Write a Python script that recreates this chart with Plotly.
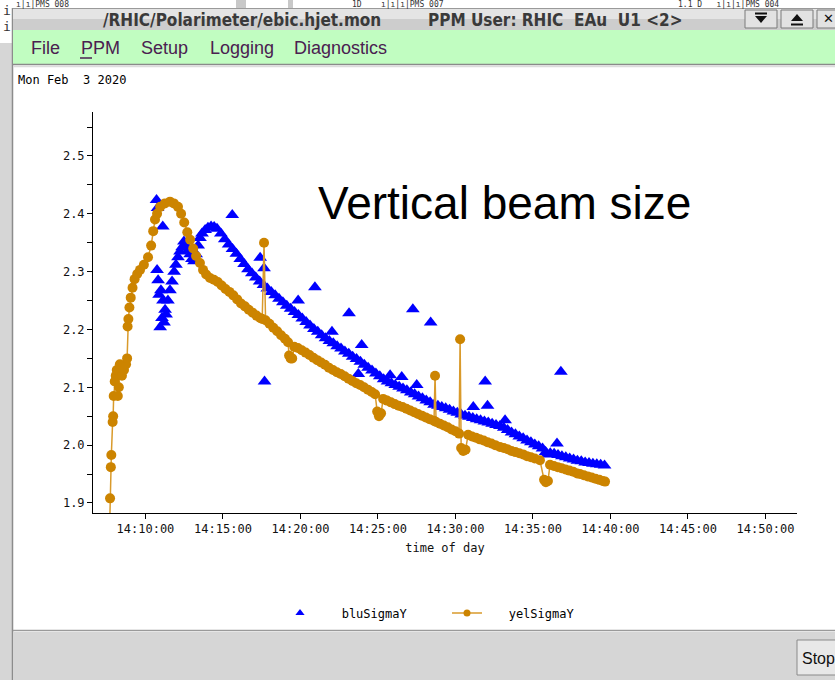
import plotly.graph_objects as go

DATE = "2020-02-03 "

# ---------------- data ----------------
yel_time = [
    "14:07:41", "14:07:43", "14:07:46", "14:07:48", "14:07:53", "14:07:55", "14:07:57", "14:08:01",
    "14:08:05", "14:08:09", "14:08:13", "14:08:17", "14:08:21", "14:08:29", "14:08:37", "14:08:45",
    "14:08:49", "14:08:51", "14:08:54", "14:08:58", "14:09:03", "14:09:10", "14:09:18", "14:09:28",
    "14:09:39", "14:09:54", "14:10:10", "14:10:22", "14:10:30", "14:10:37", "14:10:45", "14:10:57",
    "14:11:15", "14:11:35", "14:11:50", "14:12:06", "14:12:18", "14:12:30", "14:12:42", "14:12:53",
    "14:13:05", "14:13:16", "14:13:31", "14:13:43", "14:13:55", "14:14:10", "14:14:25", "14:14:40",
    "14:14:55", "14:15:10", "14:15:25", "14:15:40", "14:15:55", "14:16:10", "14:16:25", "14:16:40",
    "14:16:55", "14:17:10", "14:17:24", "14:17:32", "14:17:39", "14:17:45", "14:18:00", "14:18:15",
    "14:18:30", "14:18:45", "14:19:00", "14:19:12", "14:19:16", "14:19:22", "14:19:28", "14:19:36",
    "14:19:50", "14:20:05", "14:20:20", "14:20:35", "14:20:50", "14:21:05", "14:21:20", "14:21:35",
    "14:21:50", "14:22:06", "14:22:21", "14:22:36", "14:22:51", "14:23:06", "14:23:21", "14:23:36",
    "14:23:51", "14:24:06", "14:24:21", "14:24:36", "14:24:49", "14:24:57", "14:25:04", "14:25:12",
    "14:25:20", "14:25:35", "14:25:50", "14:26:05", "14:26:20", "14:26:35", "14:26:50", "14:27:05",
    "14:27:20", "14:27:35", "14:27:50", "14:28:05", "14:28:20", "14:28:37", "14:28:41", "14:28:45",
    "14:29:00", "14:29:15", "14:29:30", "14:29:45", "14:30:00", "14:30:14", "14:30:18", "14:30:22",
    "14:30:30", "14:30:39", "14:30:49", "14:31:04", "14:31:19", "14:31:34", "14:31:49", "14:32:04",
    "14:32:19", "14:32:34", "14:32:52", "14:33:07", "14:33:22", "14:33:37", "14:33:52", "14:34:07",
    "14:34:22", "14:34:37", "14:34:52", "14:35:07", "14:35:27", "14:35:43", "14:35:50", "14:35:58",
    "14:36:06", "14:36:21", "14:36:36", "14:36:51", "14:37:06", "14:37:21", "14:37:36", "14:37:51",
    "14:38:02", "14:38:17", "14:38:32", "14:38:47", "14:39:02", "14:39:17", "14:39:30", "14:39:39",
]
yel_sigma = [
    1.850, 1.908, 1.962, 1.983, 2.040, 2.050, 2.085, 2.110,
    2.120, 2.130, 2.085, 2.100, 2.140, 2.120, 2.130, 2.140,
    2.150, 2.205, 2.218, 2.238, 2.255, 2.272, 2.287, 2.296,
    2.303, 2.312, 2.325, 2.345, 2.370, 2.390, 2.400, 2.412,
    2.418, 2.421, 2.418, 2.412, 2.400, 2.385, 2.368, 2.355,
    2.340, 2.327, 2.315, 2.303, 2.295, 2.289, 2.286, 2.282,
    2.276, 2.270, 2.265, 2.259, 2.252, 2.245, 2.240, 2.234,
    2.229, 2.224, 2.220, 2.218, 2.350, 2.216, 2.210, 2.203,
    2.197, 2.190, 2.184, 2.178, 2.155, 2.150, 2.150, 2.170,
    2.168, 2.164, 2.160, 2.156, 2.151, 2.147, 2.143, 2.139,
    2.134, 2.130, 2.126, 2.123, 2.119, 2.115, 2.111, 2.107,
    2.104, 2.100, 2.096, 2.092, 2.088, 2.058, 2.050, 2.055,
    2.080, 2.077, 2.074, 2.071, 2.068, 2.066, 2.063, 2.060,
    2.057, 2.054, 2.051, 2.048, 2.045, 2.042, 2.120, 2.040,
    2.037, 2.034, 2.031, 2.027, 2.024, 2.020, 2.183, 1.995,
    1.990, 1.992, 2.018, 2.015, 2.013, 2.010, 2.008, 2.005,
    2.003, 2.000, 1.997, 1.995, 1.993, 1.990, 1.988, 1.986,
    1.984, 1.981, 1.979, 1.977, 1.974, 1.940, 1.936, 1.938,
    1.966, 1.964, 1.962, 1.960, 1.958, 1.956, 1.954, 1.951,
    1.950, 1.948, 1.946, 1.944, 1.942, 1.940, 1.938, 1.937,
]

blu_time = [
    "14:10:43", "14:10:45", "14:10:47", "14:10:49", "14:10:53", "14:10:57", "14:11:00", "14:11:04",
    "14:11:07", "14:11:08", "14:11:12", "14:11:16", "14:11:20", "14:11:27", "14:11:35", "14:11:43",
    "14:11:51", "14:11:58", "14:12:06", "14:12:14", "14:12:22", "14:12:29", "14:12:37", "14:12:45",
    "14:12:53", "14:13:00", "14:13:08", "14:13:16", "14:13:24", "14:13:31", "14:13:39", "14:13:51",
    "14:14:02", "14:14:14", "14:14:26", "14:14:37", "14:14:52", "14:15:07", "14:15:22", "14:15:36",
    "14:15:37", "14:15:52", "14:16:07", "14:16:22", "14:16:37", "14:16:52", "14:17:07", "14:17:22",
    "14:17:24", "14:17:37", "14:17:39", "14:17:41", "14:17:52", "14:18:07", "14:18:22", "14:18:37",
    "14:18:52", "14:19:07", "14:19:22", "14:19:37", "14:19:51", "14:19:52", "14:20:07", "14:20:22",
    "14:20:37", "14:20:52", "14:20:56", "14:21:07", "14:21:22", "14:21:37", "14:21:52", "14:22:02",
    "14:22:07", "14:22:22", "14:22:37", "14:22:52", "14:23:07", "14:23:08", "14:23:22", "14:23:37",
    "14:23:44", "14:23:52", "14:23:57", "14:24:07", "14:24:22", "14:24:37", "14:24:52", "14:25:07",
    "14:25:22", "14:25:37", "14:25:47", "14:25:52", "14:26:07", "14:26:22", "14:26:32", "14:26:37",
    "14:26:52", "14:27:07", "14:27:15", "14:27:22", "14:27:30", "14:27:37", "14:27:52", "14:28:07",
    "14:28:22", "14:28:24", "14:28:37", "14:28:52", "14:29:07", "14:29:22", "14:29:37", "14:29:52",
    "14:30:07", "14:30:22", "14:30:37", "14:30:52", "14:31:07", "14:31:09", "14:31:22", "14:31:37",
    "14:31:52", "14:31:55", "14:32:04", "14:32:07", "14:32:22", "14:32:37", "14:32:52", "14:33:07",
    "14:33:12", "14:33:22", "14:33:37", "14:33:52", "14:34:07", "14:34:22", "14:34:37", "14:34:52",
    "14:35:07", "14:35:22", "14:35:37", "14:35:49", "14:35:55", "14:36:07", "14:36:22", "14:36:33",
    "14:36:37", "14:36:48", "14:36:52", "14:37:07", "14:37:22", "14:37:37", "14:37:52", "14:38:07",
    "14:38:22", "14:38:37", "14:38:52", "14:39:07", "14:39:22", "14:39:37",
]
blu_sigma = [
    2.424, 2.303, 2.410, 2.285, 2.260, 2.204, 2.268, 2.220,
    2.378, 2.250, 2.212, 2.234, 2.226, 2.250, 2.268, 2.283,
    2.300, 2.312, 2.325, 2.335, 2.342, 2.352, 2.345, 2.336,
    2.330, 2.322, 2.318, 2.330, 2.345, 2.358, 2.366, 2.372,
    2.376, 2.378, 2.377, 2.374, 2.366, 2.356, 2.347, 2.398,
    2.339, 2.331, 2.322, 2.313, 2.304, 2.297, 2.290, 2.283,
    2.324, 2.277, 2.306, 2.110, 2.271, 2.265, 2.259, 2.253,
    2.247, 2.241, 2.236, 2.230, 2.250, 2.225, 2.219, 2.213,
    2.207, 2.201, 2.273, 2.196, 2.190, 2.185, 2.180, 2.196,
    2.176, 2.171, 2.167, 2.162, 2.158, 2.228, 2.153, 2.149,
    2.123, 2.144, 2.173, 2.139, 2.134, 2.129, 2.124, 2.119,
    2.114, 2.110, 2.121, 2.107, 2.104, 2.101, 2.118, 2.098,
    2.095, 2.091, 2.235, 2.088, 2.104, 2.084, 2.081, 2.077,
    2.074, 2.212, 2.070, 2.068, 2.066, 2.064, 2.061, 2.058,
    2.056, 2.053, 2.051, 2.049, 2.047, 2.066, 2.045, 2.043,
    2.041, 2.110, 2.068, 2.039, 2.037, 2.035, 2.033, 2.030,
    2.043, 2.026, 2.022, 2.019, 2.015, 2.012, 2.008, 2.005,
    2.001, 1.998, 1.994, 1.988, 1.984, 1.986, 1.985, 2.003,
    1.983, 2.127, 1.981, 1.979, 1.977, 1.975, 1.973, 1.972,
    1.970, 1.969, 1.968, 1.967, 1.966, 1.965,
]

y_ticks = [1.9, 2.0, 2.1, 2.2, 2.3, 2.4, 2.5]
x_range = ["14:06:37", "14:52:02"]
y_range = [1.8827, 2.576]
series_names = ["bluSigmaY", "yelSigmaY"]

# ---------------- geometry helpers (pixel -> paper) ----------------
W, H = 835, 680
L, R, T, B = 93, 797, 112, 513


def px(x):
    return (x - L) / (R - L)


def py(y):
    return (B - y) / (B - T)


def rect(x0, y0, x1, y1, fill, lc=None, lw=0):
    return dict(type="rect", xref="paper", yref="paper",
                x0=px(x0), x1=px(x1), y0=py(y1), y1=py(y0),
                fillcolor=fill, line=dict(color=lc or fill, width=lw), layer="above")


def hline(x0, x1, y, color, width=1):
    return dict(type="line", xref="paper", yref="paper",
                x0=px(x0), x1=px(x1), y0=py(y), y1=py(y),
                line=dict(color=color, width=width), layer="above")


def vline(x, y0, y1, color, width=1):
    return dict(type="line", xref="paper", yref="paper",
                x0=px(x), x1=px(x), y0=py(y0), y1=py(y1),
                line=dict(color=color, width=width), layer="above")


def ann(text, x, y, size, family, color="#000000", xanchor="left", weight="normal"):
    return dict(text=text, xref="paper", yref="paper", x=px(x), y=py(y),
                xanchor=xanchor, yanchor="middle", showarrow=False,
                font=dict(size=size, family=family, color=color, weight=weight))


MONO = "DejaVu Sans Mono, Liberation Mono, monospace"
SANS = "Liberation Sans, Arial, sans-serif"
COND = "DejaVu Sans Condensed, Liberation Sans Narrow, Liberation Sans, sans-serif"
BLUE = "#0000ff"
ORANGE = "#cc8400"
OLINE = "#d99a2b"

fig = go.Figure()
fig.add_trace(go.Scatter(
    x=[DATE + t for t in blu_time], y=blu_sigma, mode="markers", name=series_names[0],
    showlegend=False,
    marker=dict(symbol="triangle-up", size=12, color=BLUE, line=dict(width=0)),
))
fig.add_trace(go.Scatter(
    x=[DATE + t for t in yel_time], y=yel_sigma, mode="lines+markers", name=series_names[1],
    showlegend=False,
    line=dict(color=OLINE, width=1.5),
    marker=dict(symbol="circle", size=10, color=ORANGE, line=dict(width=0)),
))
# legend entries (smaller symbols, as in the reference legend)
fig.add_trace(go.Scatter(
    x=[None], y=[None], mode="markers", name="   " + series_names[0],
    marker=dict(symbol="triangle-up", size=8, color=BLUE, line=dict(width=0)),
))
fig.add_trace(go.Scatter(
    x=[None], y=[None], mode="lines+markers", name="   " + series_names[1],
    line=dict(color=OLINE, width=1.5),
    marker=dict(symbol="circle", size=7, color=ORANGE, line=dict(width=0)),
))

shapes = [
    # left margin (neighbouring desktop) and window border
    rect(0, 43, 12, 680, "#d6d6d6"),
    vline(12.5, 8, 680, "#8c8c8c", 1.5),
    rect(236, 0, 246, 8, "#c8c8c8"),
    rect(288, 0, 293, 8, "#c8c8c8"),
    # title bar
    rect(13, 8, 835, 19, "#e4e4e4"),
    rect(13, 19, 835, 30, "#cdcdcd"),
    hline(13, 835, 8.5, "#9a9a9a", 1),
    rect(745, 10, 777, 28, "#e2e2e2", "#7a7a7a", 1),
    rect(781, 10, 813, 28, "#e2e2e2", "#7a7a7a", 1),
    rect(817, 10, 845, 28, "#e2e2e2", "#7a7a7a", 1),
    # menu bar
    rect(13, 30, 835, 64, "#c1fdc1"),
    hline(13, 835, 64.5, "#8a8a8a", 1.5),
    hline(13, 835, 66.5, "#dcdcdc", 1.5),
    hline(80, 92, 58, "#4a2050", 1.5),
    # bottom panel
    hline(13, 835, 630.5, "#9a9a9a", 1.5),
    rect(13, 632, 835, 680, "#d6d6d6"),
    rect(797, 640, 845, 675, "#e8e8e8", "#8a8a8a", 1),
]

# title-bar button icons
icon = "#111111"
shapes += [
    dict(type="path", xref="paper", yref="paper", layer="above",
         path=f"M {px(755)} {py(16)} L {px(767)} {py(16)} L {px(761)} {py(23)} Z",
         fillcolor=icon, line=dict(color=icon, width=0)),
    hline(755, 767, 13.5, icon, 2),
    dict(type="path", xref="paper", yref="paper", layer="above",
         path=f"M {px(791)} {py(21)} L {px(803)} {py(21)} L {px(797)} {py(14)} Z",
         fillcolor=icon, line=dict(color=icon, width=0)),
    hline(791, 803, 24.5, icon, 2),
]

annotations = [
    ann("/RHIC/Polarimeter/ebic.hjet.mon", 101, 20, 17, COND, "#3a3a3a", weight="bold"),
    ann("PPM User: RHIC  EAu  U1 <2>", 684, 20, 17, COND, "#3a3a3a", xanchor="right", weight="bold"),
    ann("✕", 828, 19, 13, "DejaVu Sans, sans-serif", icon, xanchor="center", weight="bold"),
    ann("File", 29, 48, 18, SANS, "#4a2050"),
    ann("PPM", 79, 48, 18, SANS, "#4a2050"),
    ann("Setup", 139, 48, 18, SANS, "#4a2050"),
    ann("Logging", 208, 48, 18, SANS, "#4a2050"),
    ann("Diagnostics", 292, 48, 18, SANS, "#4a2050"),
    ann("Mon Feb  3 2020", 16, 80, 12, MONO, "#000000"),
    ann("Vertical beam size", 504, 203, 46, SANS, "#000000", xanchor="center"),
    ann("Stop", 800, 658, 16, SANS, "#111111"),
    ann("ı|ı|PMS 008", 14, 4.5, 8, MONO, "#333333"),
    ann("1D    ı|ı|ı|PMS 007", 350, 4.5, 8, MONO, "#333333"),
    ann("1.1 D   ı|ı|ı|PMS 004", 676, 4.5, 8, MONO, "#333333"),
    ann("i", 1, 10, 13, MONO, "#333333"),
    ann("i", 1, 26, 13, MONO, "#333333"),
]

fig.update_layout(
    width=W, height=H,
    margin=dict(l=L, r=W - R, t=T, b=H - B, pad=0),
    paper_bgcolor="white", plot_bgcolor="white",
    font=dict(family=MONO, size=12, color="#000000"),
    showlegend=True,
    legend=dict(orientation="h", x=px(280), xanchor="left", y=py(613), yanchor="middle",
                entrywidth=122, entrywidthmode="pixels", font=dict(family=MONO, size=12),
                bgcolor="rgba(0,0,0,0)", borderwidth=0, itemclick=False, itemdoubleclick=False),
    xaxis=dict(
        type="date", range=[DATE + x_range[0], DATE + x_range[1]],
        tick0=DATE + "14:10:00", dtick=300000, tickformat="%H:%M:%S",
        showgrid=False, zeroline=False, showline=True, linecolor="black", linewidth=1,
        ticks="outside", ticklen=5, tickcolor="black", tickwidth=1,
        tickfont=dict(family=MONO, size=12, color="#111111"),
        title=dict(text="time of day", font=dict(family=MONO, size=12, color="#111111"), standoff=8),
    ),
    yaxis=dict(
        range=y_range, tickvals=y_ticks, tickformat=".1f",
        showgrid=False, zeroline=False, showline=True, linecolor="black", linewidth=1,
        ticks="outside", ticklen=5, tickcolor="black", tickwidth=1,
        tickfont=dict(family=MONO, size=12, color="#111111"),
        minor=dict(dtick=0.05, tick0=1.9, ticks="outside", ticklen=5, tickcolor="black", showgrid=False),
    ),
    shapes=shapes,
    annotations=annotations,
)

fig.write_html(
    "out.html",
    config={"displayModeBar": False},
    post_script="document.body.style.margin='0px';document.body.style.overflow='hidden';",
)
